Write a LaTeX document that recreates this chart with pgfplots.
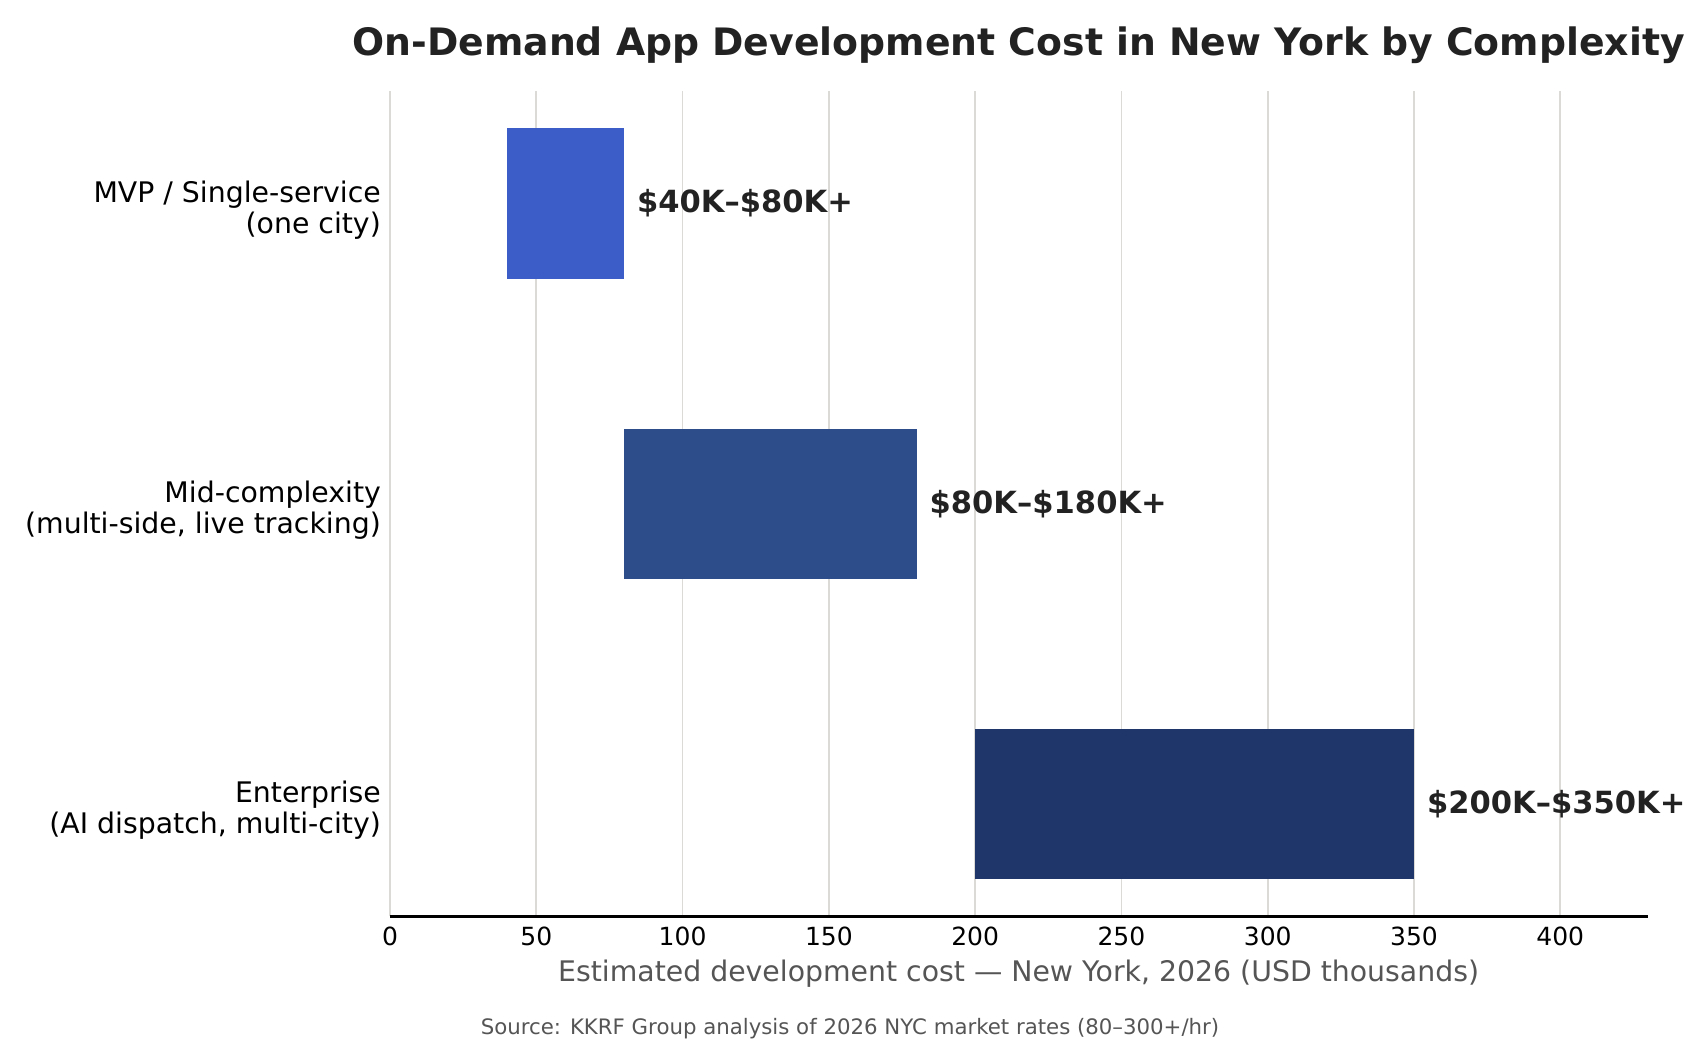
\documentclass[border=0pt]{standalone}
\usepackage{pgfplots}
\pgfplotsset{compat=1.18}
\usepackage{fontspec}
\setmainfont{DejaVu Sans}
\definecolor{cMVP}{HTML}{3C5CC8}
\definecolor{cMid}{HTML}{2D4C8A}
\definecolor{cEnt}{HTML}{1F366B}
\definecolor{gridc}{RGB}{220,218,215}
\definecolor{txt}{HTML}{222222}
\definecolor{lab}{HTML}{555555}
\begin{document}
\begin{tikzpicture}
\path[use as bounding box] (0,0) rectangle (612pt,379.44pt);
\begin{axis}[
  at={(140.4pt,49.5pt)}, anchor=south west,
  scale only axis, width=452.9pt, height=297.2pt,
  xmin=0, xmax=430, ymin=-0.375, ymax=2.375,
  axis x line*=bottom, axis y line*=left,
  x axis line style={line width=0.8pt, -},
  y axis line style={draw=none},
  xtick={0,50,...,400},
  ytick={0,1,2},
  yticklabels={{Enterprise\\(AI dispatch, multi-city)},{Mid-complexity\\(multi-side, live tracking)},{MVP / Single-service\\(one city)}},
  major tick length=0pt,
  xmajorgrids, major grid style={gridc, line width=0.6pt},
  /pgf/number format/assume math mode=true,
  xticklabel style={font=\fontsize{9}{10}\selectfont, inner sep=0pt, anchor=north, yshift=-3.4pt},
  yticklabel style={font=\fontsize{10.2}{11.3}\selectfont, align=right, inner sep=0pt, anchor=east, xshift=-3.1pt, yshift=-2.3pt},
  clip=false,
]
\addplot[draw=none, fill=cMVP] coordinates {(40,1.75) (80,1.75) (80,2.25) (40,2.25)} -- cycle;
\addplot[draw=none, fill=cMid] coordinates {(80,0.75) (180,0.75) (180,1.25) (80,1.25)} -- cycle;
\addplot[draw=none, fill=cEnt] coordinates {(200,-0.25) (350,-0.25) (350,0.25) (200,0.25)} -- cycle;
\node[anchor=west, inner sep=0pt, xshift=4.5pt, text=txt, font=\fontsize{11}{12}\selectfont\bfseries] at (axis cs:80,2) {\$40K–\$80K+};
\node[anchor=west, inner sep=0pt, xshift=4.5pt, text=txt, font=\fontsize{11}{12}\selectfont\bfseries] at (axis cs:180,1) {\$80K–\$180K+};
\node[anchor=west, inner sep=0pt, xshift=4.5pt, text=txt, font=\fontsize{11}{12}\selectfont\bfseries] at (axis cs:350,0) {\$200K–\$350K+};
\end{axis}
\node[anchor=base, inner sep=0pt, text=txt, font=\fontsize{13.6}{16}\selectfont\bfseries] at (366.7pt,359.3pt) {On-Demand App Development Cost in New York by Complexity};
\node[anchor=base, inner sep=0pt, text=lab, font=\fontsize{10.2}{12}\selectfont] at (366.7pt,26.2pt) {Estimated development cost — New York, 2026 (USD thousands)};
\node[anchor=base, inner sep=0pt, text=lab, font=\fontsize{7.66}{9}\selectfont] at (306pt,6.9pt) {Source: KKRF Group analysis of 2026 NYC market rates (80–300+/hr)};
\end{tikzpicture}
\end{document}
